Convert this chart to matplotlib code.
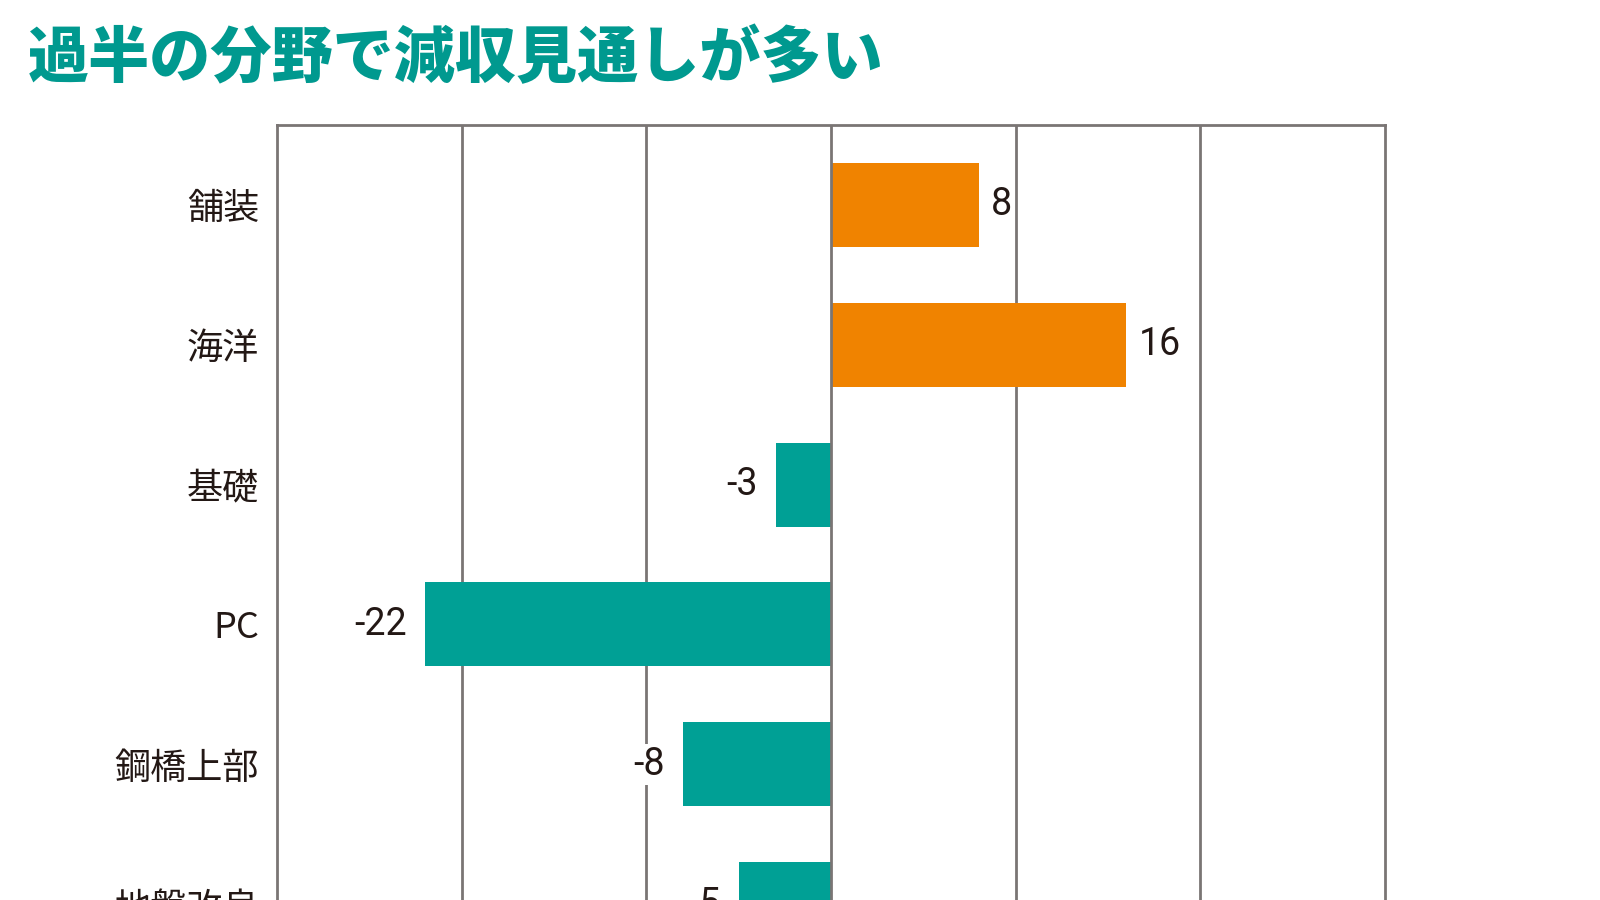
import matplotlib
matplotlib.use("Agg")
import matplotlib.pyplot as plt

plt.rcParams['font.family'] = ['Noto Sans CJK JP', 'DejaVu Sans']

categories = ["舗装", "海洋", "基礎", "PC", "鋼橋上部", "地盤改良"]
values = [8, 16, -3, -22, -8, -5]
title = "過半の分野で減収見通しが多い"

TEAL = "#00a095"
ORANGE = "#f08300"
GRID = "#7a7574"
TEXT = "#231815"

fig = plt.figure(figsize=(16, 9), dpi=100)
ax = fig.add_axes([277 / 1600, -0.0983, 1108 / 1600, 0.9594])

colors = [ORANGE if v > 0 else TEAL for v in values]
ypos = list(range(len(categories)))
ax.barh(ypos, values, height=0.6, color=colors, zorder=2)

ax.set_xlim(-30, 30)
ax.set_ylim(5.6, -0.568)

# vertical grid lines behind the bars, zero line on top
for x in (-20, -10, 10, 20):
    ax.axvline(x, color=GRID, lw=2, zorder=1)
ax.axvline(0, color=GRID, lw=2, zorder=3)

for side in ("left", "right", "top"):
    ax.spines[side].set_color(GRID)
    ax.spines[side].set_linewidth(2)
ax.spines["bottom"].set_visible(False)

ax.set_xticks([])
ax.set_yticks(ypos)
ax.set_yticklabels(categories, fontsize=26, color=TEXT)
ax.tick_params(axis="y", length=0, pad=13)

# value labels
num_font = ['Roboto', 'DejaVu Sans']
for y, v in zip(ypos, values):
    if v >= 0:
        ax.annotate(str(v), (v, y), xytext=(9, 0), textcoords="offset points",
                    ha="left", va="center", fontsize=27, color=TEXT, family=num_font,
                    bbox=dict(boxstyle="square,pad=0.05", fc="white", ec="none"),
                    zorder=4)
    else:
        ax.annotate(str(v), (v, y), xytext=(-13, 0), textcoords="offset points",
                    ha="right", va="center", fontsize=27, color=TEXT, family=num_font,
                    bbox=dict(boxstyle="square,pad=0.05", fc="white", ec="none"),
                    zorder=4)

fig.text(28 / 1600, 0.934, title, fontsize=44, fontweight="black", color="#00998f",
         ha="left", va="center")

fig.savefig("out.png", dpi=100, facecolor="white")
